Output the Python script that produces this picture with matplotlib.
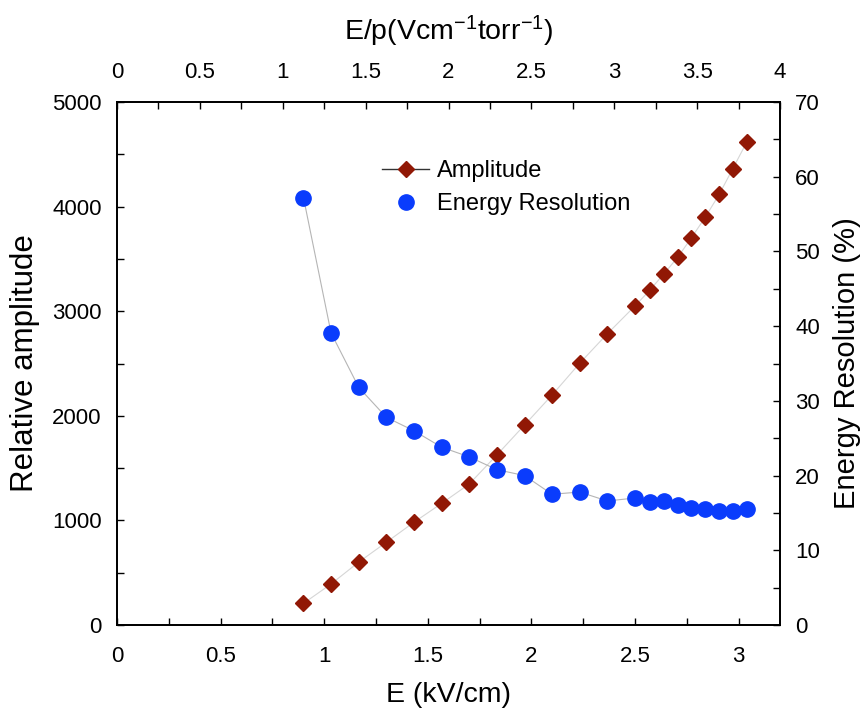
"""Amplitude and energy resolution versus drift field."""

import matplotlib
matplotlib.use("Agg")
import matplotlib.pyplot as plt
from matplotlib.lines import Line2D
from matplotlib.ticker import MultipleLocator, FormatStrFormatter

plt.rcParams.update({
    "font.family": ["Liberation Sans", "DejaVu Sans"],
    "mathtext.fontset": "custom",
    "mathtext.rm": "Liberation Sans",
    "mathtext.it": "Liberation Sans",
    "axes.linewidth": 1.1,
})

# ----- measured data
field_kv_cm = [0.9, 1.033, 1.167, 1.3, 1.433, 1.567, 1.7, 1.833, 1.967, 2.1,
               2.233, 2.367, 2.5, 2.571, 2.638, 2.706, 2.771, 2.839, 2.907,
               2.972, 3.04]
amplitude = [207, 392, 602, 791, 982, 1163, 1348, 1625, 1912, 2199,
             2502, 2785, 3050, 3200, 3353, 3515, 3697, 3898, 4118,
             4362, 4618]
resolution_pct = [57.2, 39.1, 31.8, 27.8, 26.0, 23.8, 22.5, 20.8, 20.0, 17.5,
                  17.8, 16.6, 17.0, 16.5, 16.55, 16.0, 15.6, 15.5, 15.25,
                  15.2, 15.5]

C_AMP = "#911805"
C_RES = "#0a3cfc"
TICK_FS = 16
XLABEL_FS = 20.5

fig = plt.figure(figsize=(8.65, 7.13), dpi=100)
ax = fig.add_axes([0.1353, 0.1234, 0.7664, 0.7335])
ax2 = ax.twinx()
ax3 = ax.twiny()

# amplitude on the left axis
ax.plot(field_kv_cm, amplitude, color="#d6d6d6", lw=0.8, zorder=1)
ax.plot(field_kv_cm, amplitude, ls="none", marker="D", ms=8.3,
        color=C_AMP, zorder=3)
ax.set_xlim(0, 3.2)
ax.set_ylim(0, 5000)
ax.xaxis.set_major_locator(MultipleLocator(0.5))
ax.xaxis.set_minor_locator(MultipleLocator(0.25))
ax.yaxis.set_major_locator(MultipleLocator(1000))
ax.yaxis.set_minor_locator(MultipleLocator(500))
ax.xaxis.set_major_formatter(FormatStrFormatter("%g"))
ax.tick_params(which="both", direction="in", length=5, width=1,
               top=False, right=False, labelsize=TICK_FS)
ax.tick_params(axis="x", which="major", pad=15)
ax.tick_params(axis="y", which="major", pad=11)
ax.set_xlabel("E (kV/cm)", fontsize=XLABEL_FS, labelpad=11)
ax.set_ylabel("Relative amplitude", fontsize=22.5, labelpad=9)

# energy resolution on the right axis
ax2.plot(field_kv_cm, resolution_pct, color="#b5b5b5", lw=0.8, zorder=1)
ax2.plot(field_kv_cm, resolution_pct, ls="none", marker="o", ms=11,
         color=C_RES, zorder=2)
ax2.set_ylim(0, 70)
ax2.yaxis.set_major_locator(MultipleLocator(10))
ax2.yaxis.set_minor_locator(MultipleLocator(5))
ax2.tick_params(which="both", direction="in", length=5, width=1,
                labelsize=TICK_FS)
ax2.tick_params(axis="y", which="major", pad=11)
ax2.set_ylabel("Energy Resolution (%)", fontsize=21, labelpad=9)

# reduced field on the top axis
ax3.set_xlim(0, 4)
ax3.xaxis.set_major_locator(MultipleLocator(0.5))
ax3.xaxis.set_minor_locator(MultipleLocator(0.25))
ax3.xaxis.set_major_formatter(FormatStrFormatter("%g"))
ax3.tick_params(which="both", direction="in", length=5, width=1,
                labelsize=TICK_FS)
ax3.tick_params(axis="x", which="major", pad=14)
ax3.set_xlabel(r"E/p(Vcm$^{-1}$torr$^{-1}$)", fontsize=XLABEL_FS, labelpad=15)

handles = [
    Line2D([], [], color="#333333", lw=1, marker="D", ms=8.3,
           markerfacecolor=C_AMP, markeredgecolor=C_AMP),
    Line2D([], [], ls="none", marker="o", ms=11, color=C_RES),
]
ax.legend(handles, ["Amplitude", "Energy Resolution"], loc="upper left",
          bbox_to_anchor=(0.368, 0.93), frameon=False, fontsize=17,
          handlelength=2.0, handletextpad=0.3, labelspacing=0.48)

fig.savefig("out.png", dpi=100)
